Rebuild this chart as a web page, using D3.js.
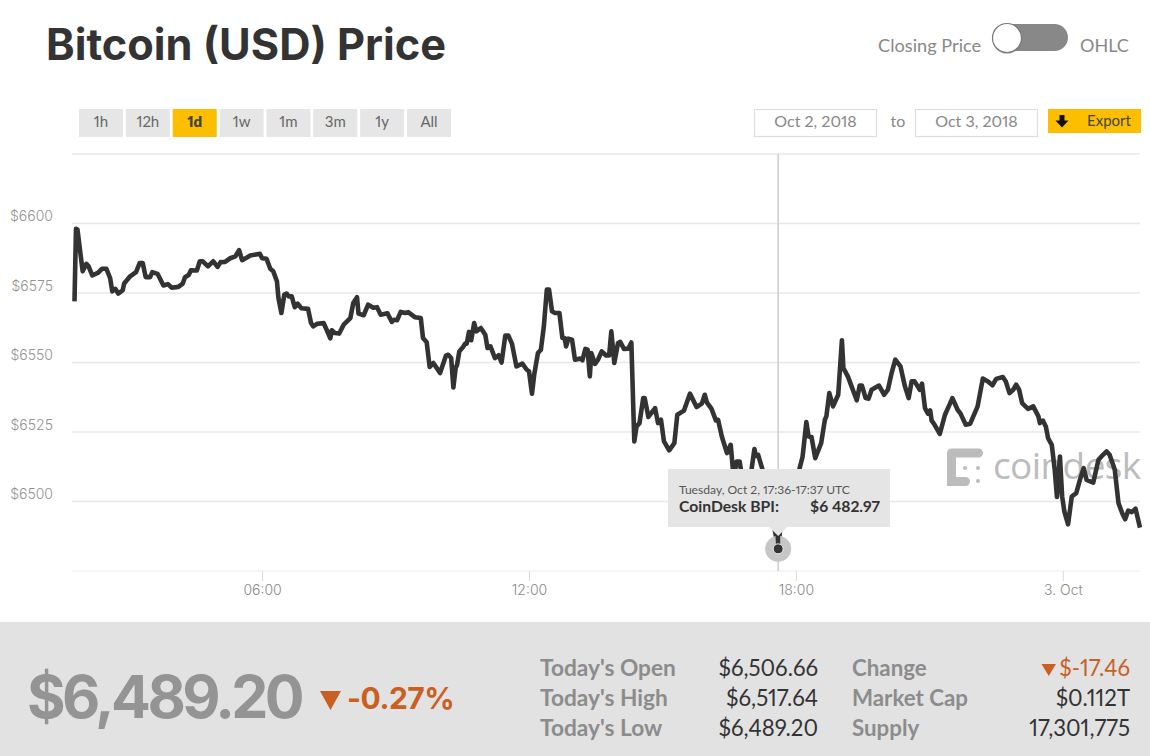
<!DOCTYPE html>
<html><head><meta charset="utf-8">
<script src="https://cdn.jsdelivr.net/npm/d3@7"></script>
<style>html,body{margin:0;padding:0;background:#fff;overflow:hidden}svg{display:block}text{font-family:Lato,"Open Sans",sans-serif;font-variant-numeric:proportional-nums}</style>
</head><body><svg id="c" width="1150" height="756"></svg>
<script>
// minutes since 00:00 UTC, Oct 2 2018
const minutes=[107,109,111,118,123,126,131,139,144,150,155,158,162,166,172,174,182,190,195,199,203,209,212,219,227,233,238,247,253,256,261,264,272,276,280,287,294,300,304,310,317,324,329,333,339,344,357,360,366,371,375,380,382,386,390,393,396,400,404,408,413,422,426,429,434,443,447,452,454,458,464,470,479,483,488,490,497,503,510,515,520,529,535,538,542,547,553,557,566,574,577,582,586,591,600,608,611,615,618,621,623,626,631,634,636,639,642,646,649,655,661,664,668,674,679,683,688,692,697,703,711,717,720,724,727,732,736,740,744,747,751,755,761,765,768,770,773,778,782,789,792,796,799,802,804,809,813,818,824,828,831,835,840,843,848,854,858,862,865,869,874,876,881,890,894,898,902,909,916,920,929,937,946,953,957,960,966,972,975,980,987,992,996,1000,1004,1009,1015,1020,1024,1026,1029,1035,1040,1046,1052,1056,1060,1068,1076,1081,1085,1089,1094,1097,1101,1106,1114,1119,1121,1125,1130,1137,1142,1144,1150,1155,1162,1166,1169,1174,1178,1182,1192,1199,1204,1209,1214,1221,1227,1232,1236,1240,1247,1250,1254,1258,1261,1263,1267,1274,1281,1285,1291,1298,1302,1309,1315,1325,1332,1339,1345,1350,1359,1363,1368,1373,1377,1381,1385,1393,1400,1407,1409,1413,1417,1420,1425,1429,1432,1436,1439,1442,1447,1452,1458,1463,1468,1472,1481,1488,1492,1499,1503,1510,1515,1520,1524,1528,1533,1538,1544];
const prices=[6572.0,6598.1,6597.8,6582.8,6585.5,6584.6,6581.3,6582.3,6583.7,6583.7,6580.4,6575.6,6576.5,6574.8,6576.0,6578.4,6581.0,6582.5,6585.8,6585.8,6580.7,6580.7,6582.5,6581.9,6577.7,6578.2,6576.9,6577.2,6578.4,6580.7,6581.5,6583.2,6583.1,6586.4,6586.4,6584.6,6586.4,6584.4,6586.1,6586.2,6587.5,6588.2,6590.4,6586.8,6587.7,6588.5,6589.1,6587.5,6587.3,6583.7,6582.8,6579.2,6573.3,6567.8,6574.4,6574.8,6573.8,6573.8,6569.9,6571.2,6569.5,6569.3,6564.2,6563.0,6563.9,6564.2,6561.8,6558.7,6561.6,6560.6,6560.4,6563.6,6566.0,6571.4,6573.5,6567.6,6567.0,6570.8,6569.7,6569.9,6567.2,6567.7,6564.6,6565.4,6565.2,6568.2,6567.8,6568.1,6566.3,6566.0,6558.8,6557.3,6548.4,6549.8,6546.2,6552.5,6552.8,6551.6,6541.0,6548.0,6549.2,6554.0,6555.6,6556.8,6556.8,6561.0,6558.0,6564.2,6561.2,6562.4,6560.0,6555.2,6555.8,6551.6,6552.6,6550.0,6559.7,6559.7,6556.8,6548.6,6549.6,6547.4,6546.8,6538.8,6545.6,6553.4,6554.6,6563.0,6576.2,6576.2,6568.4,6567.8,6567.8,6558.8,6558.8,6555.8,6558.6,6558.2,6551.0,6551.4,6550.8,6554.9,6554.6,6545.0,6553.4,6549.5,6551.0,6554.0,6552.5,6552.5,6561.2,6549.8,6557.0,6557.4,6554.9,6555.0,6557.2,6521.6,6527.0,6528.2,6537.2,6537.2,6530.4,6533.6,6528.2,6529.4,6521.6,6518.4,6521.0,6531.2,6532.7,6538.8,6534.0,6535.2,6538.4,6535.6,6533.4,6529.2,6529.4,6523.4,6517.4,6520.4,6508.5,6514.4,6514.4,6506.0,6503.5,6511.4,6518.9,6516.4,6516.8,6511.4,6502.4,6496.3,6489.1,6482.97,6493.4,6500.6,6504.2,6508.5,6512.0,6516.2,6528.6,6523.4,6523.2,6515.6,6521.0,6529.4,6530.6,6539.0,6534.2,6538.4,6558.0,6548.0,6545.0,6541.4,6536.4,6541.7,6541.7,6537.2,6537.0,6540.2,6541.7,6538.4,6540.2,6546.2,6551.0,6548.6,6541.4,6537.2,6543.2,6543.2,6540.2,6542.4,6533.6,6531.6,6532.8,6529.1,6527.6,6524.3,6531.2,6533.6,6537.2,6533.0,6531.6,6527.6,6528.0,6534.2,6544.2,6543.2,6541.8,6544.1,6544.8,6543.2,6539.0,6540.2,6542.0,6540.2,6535.4,6533.3,6534.2,6530.6,6528.2,6529.1,6527.0,6522.8,6520.4,6511.4,6501.6,6516.2,6501.8,6496.4,6491.8,6501.8,6503.0,6507.8,6512.0,6507.8,6506.8,6515.0,6516.2,6518.0,6516.8,6511.4,6499.4,6495.8,6493.6,6496.7,6496.2,6497.4,6490.6];
const yTicks=[6475,6500,6525,6550,6575,6600,6625];
const yLabelled=[6500,6525,6550,6575,6600];
const xTickMinutes=[360,720,1080,1440];
const xTickLabels=["06:00","12:00","18:00","3. Oct"];
const ranges=["1h","12h","1d","1w","1m","3m","1y","All"];
const activeRange="1d";
const hoverMinute=1056, hoverPrice=6482.97;
const statsLeft=[["Today's Open","$6,506.66"],["Today's High","$6,517.64"],["Today's Low","$6,489.20"]];
const statsRight=[["Change","$-17.46"],["Market Cap","$0.112T"],["Supply","17,301,775"]];

const svg=d3.select("#c");
const INK="#333", GREY="#888", ORANGE="#c86024", GOLD="#fdbe00", BTN="#e6e6e6";
const head='Inter,"Open Sans",sans-serif';
const x=d3.scaleLinear().domain([minutes[0],minutes[minutes.length-1]]).range([74.5,1140]);
const y=d3.scaleLinear().domain([6475,6625]).range([571,154]);

function t(s,px,py,size,fill,o={}){
  const e=svg.append("text").attr("x",px).attr("y",py).attr("font-size",size).attr("fill",fill).text(s);
  if(o.anchor)e.attr("text-anchor",o.anchor);
  if(o.weight)e.attr("font-weight",o.weight);
  if(o.family)e.style("font-family",o.family);
  if(o.spacing)e.attr("letter-spacing",o.spacing);
  return e;
}
// header
t("Bitcoin (USD) Price",46,60,43.3,INK,{weight:700,family:head});
t("Closing Price",878,52,18.2,GREY);
t("OHLC",1080,52,18,GREY);
svg.append("rect").attr("x",993).attr("y",24).attr("width",75).attr("height",27).attr("rx",13.5).attr("fill","#888");
svg.append("circle").attr("cx",1007).attr("cy",39.5).attr("r",14.5).attr("fill","#666").attr("fill-opacity",.35);
svg.append("circle").attr("cx",1007).attr("cy",38).attr("r",14.5).attr("fill","#fff").attr("stroke","#777").attr("stroke-width",1.2);
// range buttons
const bx=d3.scaleBand().domain(ranges).range([78.5,451.5]).paddingInner(0.06).paddingOuter(0.01);
const bg=svg.append("g").selectAll("g").data(ranges).join("g");
bg.append("rect").attr("x",d=>bx(d)).attr("y",109).attr("width",bx.bandwidth()).attr("height",28)
  .attr("fill",d=>d===activeRange?GOLD:BTN);
bg.append("text").attr("x",d=>bx(d)+bx.bandwidth()/2).attr("y",127).attr("text-anchor","middle").attr("font-size",15)
  .attr("font-weight",d=>d===activeRange?800:400).attr("fill",d=>d===activeRange?"#444":"#666").text(d=>d);
// date inputs
[[754.5,"Oct 2, 2018"],[915.5,"Oct 3, 2018"]].forEach(([px,s])=>{
  svg.append("rect").attr("x",px).attr("y",109.5).attr("width",122).attr("height",27).attr("fill","#fff").attr("stroke","#ddd").attr("stroke-width",1.2);
  t(s,px+61,127,16,"#888",{anchor:"middle"});
});
t("to",898,127,16,"#888",{anchor:"middle"});
svg.append("rect").attr("x",1048).attr("y",109).attr("width",93).attr("height",24).attr("fill",GOLD);
svg.append("path").attr("d","M1059.5 115h5v5.5h4l-6.5 7-6.5-7h4z").attr("fill","#111");
t("Export",1087,126,15,"#444");

// grid
const grid=svg.append("g");
grid.selectAll("line").data(yTicks).join("line").attr("x1",72).attr("x2",1140)
  .attr("y1",d=>y(d)).attr("y2",d=>y(d)).attr("stroke",d=>d===6475?"#f3f3f3":"#e8e8e8").attr("stroke-width",1.5);
// y labels via axis
const yA=svg.append("g").attr("transform","translate(53,0)")
  .call(d3.axisLeft(y).tickValues(yLabelled).tickSize(0).tickPadding(0).tickFormat(d=>"$"+d));
yA.select(".domain").remove();
yA.selectAll("text").attr("font-size",14).attr("fill","#929292").attr("dy",-3).style("font-family",head).style("font-weight",300);
// x axis
const labelOf=new Map(xTickMinutes.map((m,i)=>[m,xTickLabels[i]]));
const xA=svg.append("g").attr("transform","translate(0,571)")
  .call(d3.axisBottom(x).tickValues(xTickMinutes).tickSize(10).tickPadding(4).tickFormat(d=>labelOf.get(d)));
xA.select(".domain").remove();
xA.selectAll("line").attr("stroke","#d5dbe6");
xA.selectAll("text").attr("font-size",14).attr("fill","#888").style("font-family",head).style("font-weight",300);

// watermark
const logo=svg.append("g").attr("fill","#bcbcbc").attr("stroke","#bcbcbc");
logo.append("path").attr("fill","none").attr("stroke-width",9).attr("stroke-linecap","round").attr("d","M951.5 453H978.5M951.5 453V481.5H965.5");
[[965,468],[978,468],[978,481]].forEach(([a,b])=>logo.append("circle").attr("cx",a).attr("cy",b).attr("r",2).attr("stroke","none"));
t("coindesk",993,479,37,"#bcbcbc",{family:'"Open Sans",sans-serif',weight:400,spacing:-0.6});

// crosshair
svg.append("line").attr("x1",x(hoverMinute)).attr("x2",x(hoverMinute)).attr("y1",154).attr("y2",571).attr("stroke","#ccc").attr("stroke-width",1.5);
// line
const line=d3.line().x((d,i)=>x(minutes[i])).y(d=>y(d)).curve(d3.curveLinear);
svg.append("path").datum(prices).attr("d",line).attr("fill","none").attr("stroke",INK).attr("stroke-width",4.6).attr("stroke-linejoin","round");
// hover marker
svg.append("circle").attr("cx",x(hoverMinute)).attr("cy",y(hoverPrice)).attr("r",13).attr("fill","#c6c6c6");
svg.append("path").attr("d",`M${x(hoverMinute)-3} 530L${x(hoverMinute)-2} ${y(hoverPrice)}h4V530z`).attr("fill",INK);
svg.append("circle").attr("cx",x(hoverMinute)).attr("cy",y(hoverPrice)).attr("r",5).attr("fill",INK).attr("stroke","#eee").attr("stroke-width",1);
// tooltip
svg.append("path").attr("d",`M668 469H890V527H${x(hoverMinute)+9}L${x(hoverMinute)} 536L${x(hoverMinute)-9} 527H668z`).attr("fill","#e5e5e5");
t("Tuesday, Oct 2, 17:36-17:37 UTC",679,494,12.1,"#555");
t("CoinDesk BPI:",679,512,15.7,INK,{weight:700});
t("$6 482.97",880,512,15.6,INK,{anchor:"end",weight:700});

// footer
svg.append("rect").attr("x",0).attr("y",622).attr("width",1150).attr("height",134).attr("fill","#e2e2e2");
t("$6,489.20",27,718,59,"#949494",{weight:700,family:head,spacing:-3.6});
svg.append("path").attr("d","M320 691H341L330.5 710z").attr("fill",ORANGE);
t("-0.27%",347,709,30,ORANGE,{weight:700,family:head,spacing:-.5});
const rowY=[676,706,736];
statsLeft.forEach(([a,b],i)=>{
  t(a,540,rowY[i],22.7,"#8c8c8c",{weight:700});
  t(b,818,rowY[i],22.2,INK,{anchor:"end"});
});
statsRight.forEach(([a,b],i)=>{
  t(a,852,rowY[i],22.3,"#8c8c8c",{weight:700});
  t(b,1130,rowY[i],22.2,i===0?ORANGE:INK,{anchor:"end"});
});
svg.append("path").attr("d","M1041.5 664H1056L1048.75 676z").attr("fill",ORANGE);
</script></body></html>
